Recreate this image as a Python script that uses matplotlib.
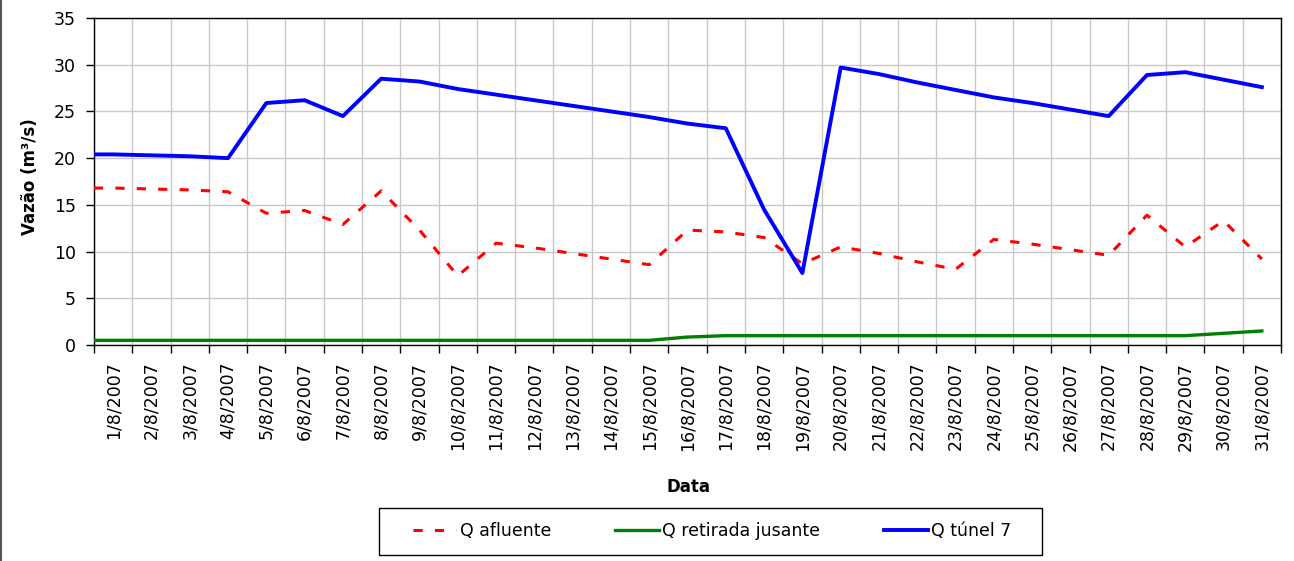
import numpy as np
import matplotlib
matplotlib.use("Agg")
import matplotlib.pyplot as plt
from matplotlib.lines import Line2D
from matplotlib.patches import Rectangle

# dados diarios - agosto 2007
datas = [f"{d}/8/2007" for d in range(1, 32)]

q_afluente = [16.8, 16.7, 16.6, 16.4, 14.1, 14.4, 12.9, 16.5, 12.3, 7.4,
              10.9, 10.4, 9.8, 9.2, 8.6, 12.3, 12.1, 11.5, 8.7, 10.5,
              9.8, 8.9, 8.1, 11.3, 10.8, 10.2, 9.6, 13.9, 10.5, 13.3, 9.2]

q_retirada = [0.5, 0.5, 0.5, 0.5, 0.5, 0.5, 0.5, 0.5, 0.5, 0.5,
              0.5, 0.5, 0.5, 0.5, 0.5, 0.85, 1.0, 1.0, 1.0, 1.0,
              1.0, 1.0, 1.0, 1.0, 1.0, 1.0, 1.0, 1.0, 1.0, 1.25, 1.5]

q_tunel = [20.4, 20.3, 20.2, 20.0, 25.9, 26.2, 24.5, 28.5, 28.2, 27.4,
           26.8, 26.2, 25.6, 25.0, 24.4, 23.7, 23.2, 14.5, 7.7, 29.7,
           29.0, 28.1, 27.3, 26.5, 25.9, 25.2, 24.5, 28.9, 29.2, 28.4, 27.6]

plt.rcParams['font.family'] = ['DejaVu Sans']

fig = plt.figure(figsize=(12.94, 5.61), dpi=100)
W, H = 1294, 561
ax = fig.add_axes([94 / W, 1 - 345 / H, (1281 - 94) / W, (345 - 18) / H])

x = np.arange(1, len(datas) + 1)
x0 = 0.5
ax.set_xlim(x0, len(datas) + 0.5)
ax.set_ylim(0, 35)

# a serie comeca no limite esquerdo do eixo, como no grafico original
xs = np.r_[x0, x]
ax.plot(xs, np.r_[q_afluente[0], q_afluente], color='#ff0000', lw=2.2,
        dashes=(3, 4), dash_capstyle='butt', label='Q afluente', zorder=3)
ax.plot(xs, np.r_[q_retirada[0], q_retirada], color='#008000', lw=2.4,
        label='Q retirada jusante', zorder=3)
ax.plot(xs, np.r_[q_tunel[0], q_tunel], color='#0000ff', lw=2.8,
        label='Q túnel 7', zorder=4)

# ticks nas divisoes, rotulos no centro das categorias
ax.set_xticks(np.arange(0.5, len(datas) + 1, 1))
ax.set_xticklabels([])
ax.set_xticks(x, minor=True)
ax.set_xticklabels(datas, minor=True, rotation=90, fontsize=12.5, va='top', ha='center')
ax.tick_params(axis='x', which='major', direction='out', length=6, width=1, color='black')
ax.tick_params(axis='x', which='minor', length=0, pad=12)
ax.set_yticks(np.arange(0, 36, 5))
ax.tick_params(axis='y', direction='out', length=6, width=1, pad=7, labelsize=12.5)

ax.grid(True, which='major', color='#c8c8c8', lw=1)
ax.set_axisbelow(True)
for s in ax.spines.values():
    s.set_color('black')
    s.set_linewidth(1)

fig.text(30 / W, 1 - 177 / H, 'Vazão (m³/s)', rotation=90, ha='center', va='center',
         fontsize=12, fontweight='bold')
fig.text(688 / W, 1 - 487 / H, 'Data', ha='center', va='center',
         fontsize=12, fontweight='bold')

leg = fig.legend(loc='center', bbox_to_anchor=(712 / W, 1 - 531.5 / H), ncol=3,
                 fontsize=12.5, frameon=False, handlelength=2.5,
                 handletextpad=0.2, columnspacing=3.7, borderpad=0.0)
# moldura da legenda
fig.add_artist(Rectangle((379 / W, 1 - 555 / H), (1042 - 379) / W, (555 - 508) / H,
                         transform=fig.transFigure, fill=False, ec='black', lw=1))

# borda esquerda da area do grafico
fig.add_artist(Line2D([0.001, 0.001], [0, 1], transform=fig.transFigure,
                      color='#555555', lw=1.5))

fig.savefig('out.png', dpi=100)
